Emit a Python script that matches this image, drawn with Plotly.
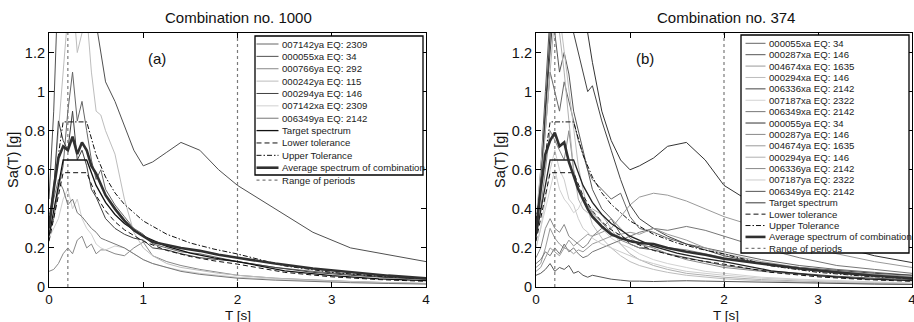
import plotly.graph_objects as go

W, H = 914, 322

# ---------------- data ----------------
T = [0, 0.05, 0.1, 0.15, 0.2, 0.25, 0.3, 0.35, 0.4, 0.45, 0.5, 0.55, 0.6, 0.7,
     0.8, 0.9, 1.0, 1.1, 1.25, 1.4, 1.6, 1.8, 2.0, 2.4, 2.8, 3.2, 3.6, 4.0]

T_target = [0, 0.15, 0.4, 0.5, 0.6, 0.7, 0.8, 1.0, 1.25, 1.5, 1.75, 2.0, 2.5, 3.0, 3.5, 4.0]
target = [0.26, 0.65, 0.65, 0.52, 0.433, 0.371, 0.325, 0.26, 0.208, 0.173, 0.149, 0.13, 0.083, 0.058, 0.042, 0.033]
lower_tol = [0.234, 0.585, 0.585, 0.468, 0.39, 0.334, 0.293, 0.234, 0.187, 0.156, 0.134, 0.117, 0.075, 0.052, 0.038, 0.029]
upper_tol = [0.338, 0.845, 0.845, 0.676, 0.563, 0.482, 0.423, 0.338, 0.27, 0.225, 0.194, 0.169, 0.108, 0.075, 0.055, 0.042]
range_periods = [0.2, 2.0]
y_range = [0, 1.3]

# panel (a) - combination no. 1000
a_007142ya = [0.28, 0.35, 0.5, 0.62, 0.9, 1.1, 0.85, 0.95, 0.8, 0.65, 0.55, 0.6, 0.5, 0.42, 0.36, 0.3, 0.27, 0.22, 0.2, 0.18, 0.17, 0.15, 0.13, 0.1, 0.08, 0.065, 0.05, 0.04]
a_000055xa = [0.45, 0.9, 1.6, 2.0, 2.2, 2.1, 1.9, 1.8, 1.7, 1.5, 1.35, 1.2, 1.05, 0.95, 0.82, 0.7, 0.62, 0.64, 0.69, 0.74, 0.7, 0.6, 0.52, 0.4, 0.28, 0.2, 0.165, 0.13]
a_000766ya = [0.08, 0.09, 0.12, 0.17, 0.2, 0.17, 0.24, 0.26, 0.2, 0.22, 0.17, 0.19, 0.19, 0.17, 0.16, 0.2, 0.23, 0.16, 0.13, 0.11, 0.09, 0.075, 0.06, 0.045, 0.035, 0.028, 0.022, 0.018]
a_000242ya = [0.35, 0.5, 0.8, 1.1, 1.4, 1.5, 1.2, 1.3, 1.4, 1.1, 0.9, 0.88, 0.8, 0.68, 0.45, 0.28, 0.2, 0.16, 0.12, 0.1, 0.085, 0.07, 0.06, 0.045, 0.035, 0.028, 0.022, 0.018]
a_000294ya = [0.3, 0.5, 0.85, 0.75, 0.7, 0.9, 0.65, 0.7, 0.62, 0.5, 0.46, 0.4, 0.35, 0.3, 0.27, 0.25, 0.24, 0.2, 0.19, 0.17, 0.15, 0.14, 0.13, 0.1, 0.075, 0.06, 0.048, 0.04]
a_007142xa = [0.25, 0.3, 0.35, 0.45, 0.5, 0.4, 0.45, 0.35, 0.3, 0.27, 0.22, 0.2, 0.19, 0.21, 0.2, 0.17, 0.14, 0.12, 0.1, 0.085, 0.07, 0.06, 0.05, 0.04, 0.03, 0.025, 0.02, 0.016]
a_006349ya = [0.3, 0.45, 0.55, 0.5, 0.42, 0.45, 0.38, 0.36, 0.33, 0.3, 0.28, 0.25, 0.24, 0.22, 0.2, 0.17, 0.14, 0.12, 0.1, 0.08, 0.065, 0.055, 0.045, 0.035, 0.028, 0.022, 0.018, 0.015]
avg_a = [0.3, 0.5, 0.66, 0.72, 0.7, 0.77, 0.68, 0.74, 0.7, 0.62, 0.58, 0.52, 0.47, 0.4, 0.34, 0.29, 0.26, 0.23, 0.215, 0.2, 0.185, 0.165, 0.15, 0.12, 0.095, 0.075, 0.058, 0.045]
names_a = ["007142ya EQ: 2309", "000055xa EQ: 34", "000766ya EQ: 292", "000242ya EQ: 115",
           "000294ya EQ: 146", "007142xa EQ: 2309", "006349ya EQ: 2142"]

# panel (b) - combination no. 374
b_000055xa = [0.3, 0.55, 0.8, 1.1, 1.0, 0.9, 1.05, 0.95, 0.85, 0.75, 0.68, 0.6, 0.55, 0.5, 0.45, 0.48, 0.36, 0.3, 0.28, 0.25, 0.22, 0.2, 0.18, 0.14, 0.11, 0.09, 0.075, 0.06]
b_000287xa = [0.3, 0.6, 1.0, 1.4, 1.3, 1.1, 1.2, 1.09, 0.9, 0.8, 0.7, 0.6, 0.5, 0.4, 0.35, 0.27, 0.22, 0.2, 0.19, 0.17, 0.15, 0.13, 0.11, 0.085, 0.07, 0.055, 0.045, 0.038]
b_004674xa = [0.1, 0.12, 0.2, 0.3, 0.25, 0.22, 0.2, 0.24, 0.21, 0.23, 0.25, 0.27, 0.26, 0.28, 0.3, 0.36, 0.42, 0.46, 0.48, 0.47, 0.44, 0.4, 0.36, 0.3, 0.22, 0.17, 0.13, 0.1]
b_000294xa = [0.35, 0.6, 0.9, 1.3, 1.6, 1.4, 1.2, 1.0, 0.8, 0.62, 0.5, 0.4, 0.32, 0.25, 0.2, 0.16, 0.13, 0.11, 0.09, 0.075, 0.06, 0.05, 0.042, 0.032, 0.025, 0.02, 0.016, 0.013]
b_006336xa = [0.25, 0.5, 0.9, 1.2, 1.5, 1.3, 1.6, 1.4, 1.3, 1.2, 1.1, 1.0, 1.03, 0.85, 0.7, 0.55, 0.42, 0.35, 0.3, 0.26, 0.22, 0.19, 0.16, 0.12, 0.1, 0.085, 0.07, 0.06]
b_007187xa = [0.2, 0.3, 0.4, 0.5, 0.6, 0.5, 0.45, 0.42, 0.38, 0.4, 0.45, 0.42, 0.38, 0.3, 0.25, 0.22, 0.2, 0.17, 0.14, 0.12, 0.1, 0.08, 0.07, 0.05, 0.04, 0.032, 0.026, 0.02]
b_006349xa = [0.12, 0.14, 0.18, 0.16, 0.2, 0.17, 0.22, 0.18, 0.2, 0.17, 0.15, 0.16, 0.18, 0.2, 0.22, 0.24, 0.26, 0.28, 0.3, 0.29, 0.31, 0.29, 0.26, 0.2, 0.15, 0.11, 0.09, 0.07]
b_000055ya = [0.3, 0.5, 0.9, 1.3, 1.5, 1.7, 1.6, 1.5, 1.5, 1.4, 1.35, 1.3, 1.15, 0.9, 0.75, 0.65, 0.6, 0.62, 0.66, 0.72, 0.74, 0.65, 0.52, 0.4, 0.28, 0.21, 0.16, 0.125]
b_000287ya = [0.25, 0.4, 0.6, 0.8, 0.75, 0.7, 0.65, 0.8, 0.6, 0.5, 0.45, 0.42, 0.38, 0.33, 0.28, 0.24, 0.22, 0.2, 0.21, 0.2, 0.19, 0.17, 0.15, 0.12, 0.1, 0.08, 0.065, 0.055]
b_004674ya = [0.08, 0.1, 0.15, 0.2, 0.18, 0.16, 0.2, 0.19, 0.17, 0.19, 0.18, 0.2, 0.22, 0.24, 0.26, 0.27, 0.28, 0.27, 0.3, 0.27, 0.24, 0.2, 0.17, 0.13, 0.1, 0.08, 0.065, 0.05]
b_000294ya = [0.3, 0.5, 0.8, 1.1, 1.4, 1.3, 1.1, 0.85, 0.6, 0.45, 0.4, 0.38, 0.4, 0.37, 0.3, 0.22, 0.17, 0.14, 0.11, 0.09, 0.07, 0.06, 0.05, 0.038, 0.03, 0.024, 0.02, 0.016]
b_006336ya = [0.15, 0.2, 0.3, 0.35, 0.3, 0.28, 0.32, 0.26, 0.24, 0.22, 0.2, 0.22, 0.26, 0.3, 0.35, 0.3, 0.25, 0.22, 0.2, 0.17, 0.14, 0.12, 0.1, 0.08, 0.065, 0.05, 0.04, 0.033]
b_007187ya = [0.2, 0.3, 0.45, 0.6, 0.7, 0.6, 0.55, 0.45, 0.42, 0.35, 0.3, 0.28, 0.25, 0.22, 0.2, 0.18, 0.16, 0.14, 0.12, 0.1, 0.08, 0.07, 0.06, 0.045, 0.035, 0.028, 0.022, 0.018]
b_006349ya = [0.06, 0.07, 0.09, 0.12, 0.08, 0.1, 0.09, 0.11, 0.07, 0.08, 0.06, 0.05, 0.06, 0.05, 0.04, 0.035, 0.03, 0.03, 0.028, 0.03, 0.032, 0.03, 0.028, 0.024, 0.02, 0.017, 0.015, 0.013]
avg_b = [0.28, 0.5, 0.68, 0.75, 0.79, 0.72, 0.74, 0.64, 0.57, 0.5, 0.45, 0.4, 0.36, 0.31, 0.27, 0.25, 0.235, 0.225, 0.22, 0.2, 0.18, 0.165, 0.145, 0.12, 0.095, 0.075, 0.058, 0.045]
names_b = ["000055xa EQ: 34", "000287xa EQ: 146", "004674xa EQ: 1635", "000294xa EQ: 146",
           "006336xa EQ: 2142", "007187xa EQ: 2322", "006349xa EQ: 2142", "000055ya EQ: 34",
           "000287ya EQ: 146", "004674ya EQ: 1635", "000294ya EQ: 146", "006336ya EQ: 2142",
           "007187ya EQ: 2322", "006349ya EQ: 2142"]

x_ticks = [0, 1, 2, 3, 4]
y_ticks = [0, 0.2, 0.4, 0.6, 0.8, 1, 1.2]
titles = ["Combination no. 1000", "Combination no. 374"]
panel_tags = ["(a)", "(b)"]

# ---------------- styles ----------------
recs_a = [a_007142ya, a_000055xa, a_000766ya, a_000242ya, a_000294ya, a_007142xa, a_006349ya]
cols_a = ["#666666", "#505050", "#888888", "#bdbdbd", "#404040", "#d0d0d0", "#777777"]
recs_b = [b_000055xa, b_000287xa, b_004674xa, b_000294xa, b_006336xa, b_007187xa, b_006349xa,
          b_000055ya, b_000287ya, b_004674ya, b_000294ya, b_006336ya, b_007187ya, b_006349ya]
cols_b = ["#666666", "#555555", "#9a9a9a", "#bdbdbd", "#444444", "#d2d2d2", "#777777",
          "#333333", "#8a8a8a", "#9a9a9a", "#b0b0b0", "#888888", "#cccccc", "#555555"]

FONT = "Liberation Sans, Arial, sans-serif"
DASH_LOW = "5px,3px"
DASH_UP = "5px,2px,1.5px,2px"
DASH_RANGE = "3px,3px"

fig = go.Figure()


def add_panel(xa, ya, recs, cols, avg, target_col):
    for vals, c in zip(recs, cols):
        fig.add_trace(go.Scatter(x=T, y=vals, mode="lines", xaxis=xa, yaxis=ya,
                                 line=dict(color=c, width=1), hoverinfo="skip"))
    for tp in range_periods:
        fig.add_trace(go.Scatter(x=[tp, tp], y=y_range, mode="lines", xaxis=xa, yaxis=ya,
                                 line=dict(color="#7a7a7a", width=1.2, dash=DASH_RANGE)))
    fig.add_trace(go.Scatter(x=T_target, y=lower_tol, mode="lines", xaxis=xa, yaxis=ya,
                             line=dict(color="#111111", width=1, dash=DASH_LOW)))
    fig.add_trace(go.Scatter(x=T_target, y=upper_tol, mode="lines", xaxis=xa, yaxis=ya,
                             line=dict(color="#111111", width=1, dash=DASH_UP)))
    fig.add_trace(go.Scatter(x=T_target, y=target, mode="lines", xaxis=xa, yaxis=ya,
                             line=dict(color=target_col, width=1.3)))
    fig.add_trace(go.Scatter(x=T, y=avg, mode="lines", xaxis=xa, yaxis=ya,
                             line=dict(color="#303030", width=2.6)))


add_panel("x", "y", recs_a, cols_a, avg_a, "#111111")
add_panel("x2", "y2", recs_b, cols_b, avg_b, "#222222")


def px(x):
    return x / W


def py(y):
    return 1 - y / H


shapes = []
annotations = []


def legend(box, first_y, step, names, cols, sx0, sx1, tx, target_col):
    x0, y0, x1, y1 = box
    shapes.append(dict(type="rect", xref="paper", yref="paper", x0=px(x0), x1=px(x1),
                       y0=py(y1), y1=py(y0), fillcolor="white",
                       line=dict(color="black", width=1.3), layer="above"))
    entries = [(n, dict(color=c, width=1)) for n, c in zip(names, cols)]
    entries += [("Target spectrum", dict(color=target_col, width=1.3)),
                ("Lower tolerance", dict(color="#111111", width=1, dash=DASH_LOW)),
                ("Upper Tolerance", dict(color="#111111", width=1, dash=DASH_UP)),
                ("Average spectrum of combination", dict(color="#303030", width=2.6)),
                ("Range of periods", dict(color="#7a7a7a", width=1.2, dash=DASH_RANGE))]
    for i, (name, ln) in enumerate(entries):
        yy = first_y + i * step
        shapes.append(dict(type="line", xref="paper", yref="paper", x0=px(sx0), x1=px(sx1),
                           y0=py(yy), y1=py(yy), line=ln, layer="above"))
        annotations.append(dict(text=name, xref="paper", yref="paper", x=px(tx), y=py(yy),
                                xanchor="left", yanchor="middle", showarrow=False,
                                font=dict(family=FONT, size=9.6, color="#222222")))


legend((255, 36, 423, 175), 44.0, 12.37, names_a, cols_a, 256.5, 278.5, 279.5, "#111111")
legend((741, 35, 909, 253), 43.3, 11.39, names_b, cols_b, 745.5, 765.5, 766.5, "#666666")

# titles, panel tags, axis titles
for cx, title, tag, tagx, yl in [(238, titles[0], panel_tags[0], 156.5, 13),
                                 (726, titles[1], panel_tags[1], 645, 500)]:
    annotations.append(dict(text=title, xref="paper", yref="paper", x=px(cx), y=py(17),
                            xanchor="center", yanchor="middle", showarrow=False,
                            font=dict(family=FONT, size=15, color="#111111")))
    annotations.append(dict(text=tag, xref="paper", yref="paper", x=px(tagx), y=py(58),
                            xanchor="center", yanchor="middle", showarrow=False,
                            font=dict(family=FONT, size=15, color="#111111")))
    annotations.append(dict(text="T [s]", xref="paper", yref="paper", x=px(cx), y=py(315),
                            xanchor="center", yanchor="middle", showarrow=False,
                            font=dict(family=FONT, size=13.5, color="#111111")))
    annotations.append(dict(text="Sa(T) [g]", xref="paper", yref="paper", x=px(yl), y=py(160),
                            xanchor="center", yanchor="middle", showarrow=False, textangle=-90,
                            font=dict(family=FONT, size=14.5, color="#111111")))

axis_common = dict(showgrid=False, zeroline=False, showline=True, linecolor="black",
                   linewidth=1.2, mirror="ticks", ticks="inside", ticklen=5,
                   tickcolor="black", tickwidth=1, automargin=False,
                   ticklabeloverflow="allow")
yfont = dict(family=FONT, size=14.5, color="#111111")
xfont = dict(family=FONT, size=13.5, color="#111111")

ydom = [1 - 287 / H, 1 - 33 / H]
fig.update_layout(
    width=W, height=H, margin=dict(l=0, r=0, t=0, b=0),
    paper_bgcolor="white", plot_bgcolor="white", showlegend=False,
    xaxis=dict(domain=[49 / W, 426 / W], anchor="y", range=[0, 4], tickvals=x_ticks,
               tickfont=xfont, **axis_common),
    yaxis=dict(domain=ydom, anchor="x", range=y_range, tickvals=y_ticks,
               tickfont=yfont, **axis_common),
    xaxis2=dict(domain=[536 / W, 912 / W], anchor="y2", range=[0, 4], tickvals=x_ticks,
                tickfont=xfont, **axis_common),
    yaxis2=dict(domain=ydom, anchor="x2", range=y_range, tickvals=y_ticks,
                tickfont=yfont, **axis_common),
    shapes=shapes, annotations=annotations,
)

fig.write_html("out.html")
